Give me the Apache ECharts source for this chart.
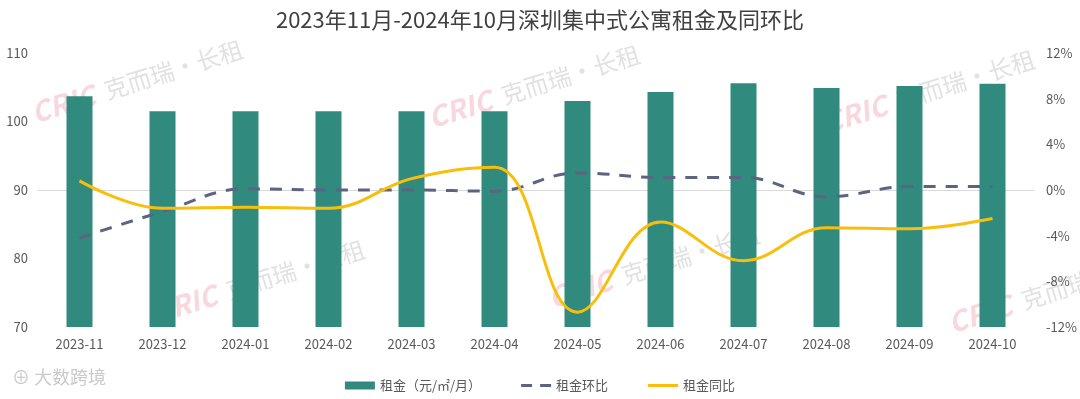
<!DOCTYPE html>
<html>
<head>
<meta charset="utf-8">
<script src="https://cdn.jsdelivr.net/npm/echarts@6/dist/echarts.min.js"></script>
<style>
  html, body { margin: 0; padding: 0; background: #fff; }
  #main { width: 1080px; height: 399px; }
</style>
</head>
<body>
<div id="main"></div>
<script>
// 月份
var months = ['2023-11', '2023-12', '2024-01', '2024-02', '2024-03', '2024-04',
  '2024-05', '2024-06', '2024-07', '2024-08', '2024-09', '2024-10'];
// 租金（元/㎡/月）
var rent = [103.7, 101.5, 101.5, 101.5, 101.5, 101.5, 103.0, 104.3, 105.6, 104.9, 105.2, 105.5];
// 租金环比 %
var mom = [-4.2, -1.9, 0.1, 0.0, 0.0, -0.1, 1.5, 1.1, 1.1, -0.6, 0.3, 0.3];
// 租金同比 %
var yoy = [0.8, -1.6, -1.5, -1.6, 1.0, 2.0, -10.7, -2.8, -6.2, -3.3, -3.4, -2.5];

var font = '"Noto Sans CJK SC", "Noto Sans", sans-serif';
var chart = echarts.init(document.getElementById('main'), null, { renderer: 'canvas' });

// 水印
function mark(x, y) {
  return {
    type: 'group', x: x, y: y, rotation: 0.3, silent: true, z: 0,
    children: [
      { type: 'text', style: { x: 0, y: 0, text: 'CRIC', fill: 'rgba(236,140,160,0.35)',
        font: 'italic bold 28px ' + font } },
      { type: 'text', style: { x: 76, y: 2, text: '克而瑞·长租', fill: 'rgba(170,170,170,0.35)',
        font: '24px ' + font } }
    ]
  };
}

// 图例图标（上下各留一个小点撑开高度）
var dashIcon = 'path://M0,0h0.01v0.01h-0.01z M0,2.5h11v3h-11z M19,2.5h11v3h-11z M0,7.99h0.01v0.01h-0.01z';
var lineIcon = 'path://M0,0h0.01v0.01h-0.01z M0,2.5h30v3h-30z M0,7.99h0.01v0.01h-0.01z';

var option = {
  textStyle: { fontFamily: font },
  color: ['#308B7E', '#5C6482', '#F9BE0C'],
  title: {
    text: '2023年11月-2024年10月深圳集中式公寓租金及同环比',
    left: 'center',
    top: 4,
    textStyle: { fontSize: 22, fontWeight: 'normal', color: '#404040', fontFamily: font }
  },
  legend: {
    bottom: 2,
    left: 'center',
    itemGap: 40,
    itemWidth: 30,
    itemHeight: 8,
    textStyle: { fontSize: 13, color: '#595959' },
    data: [
      { name: '租金（元/㎡/月）', icon: 'rect' },
      { name: '租金环比', icon: dashIcon },
      { name: '租金同比', icon: lineIcon }
    ]
  },
  grid: { left: 38, right: 46, top: 53, bottom: 72 },
  xAxis: {
    type: 'category',
    data: months,
    axisLine: { lineStyle: { color: '#D9D9D9' } },
    axisTick: { show: false },
    axisLabel: { color: '#595959', fontSize: 13, margin: 11 }
  },
  yAxis: [
    {
      type: 'value', min: 70, max: 110, interval: 10,
      splitLine: { show: false },
      axisLine: { show: false }, axisTick: { show: false },
      axisLabel: { color: '#595959', fontSize: 13, margin: 10 }
    },
    {
      type: 'value', min: -12, max: 12, interval: 4,
      splitLine: { show: false },
      axisLine: { show: false }, axisTick: { show: false },
      axisLabel: { color: '#595959', fontSize: 13, margin: 12, formatter: '{value}%' }
    }
  ],
  series: [
    {
      name: '租金（元/㎡/月）', type: 'bar', data: rent, barWidth: 26,
      itemStyle: { color: '#308B7E' }, z: 2
    },
    {
      name: '租金环比', type: 'line', yAxisIndex: 1, data: mom, smooth: 0.4,
      symbol: 'none', lineStyle: { width: 3, type: [12, 10], color: '#5C6482' },
      itemStyle: { color: '#5C6482' }, z: 3
    },
    {
      name: '租金同比', type: 'line', yAxisIndex: 1, data: yoy, smooth: 0.4,
      symbol: 'none', lineStyle: { width: 3, color: '#F9BE0C' },
      itemStyle: { color: '#F9BE0C' }, z: 4
    }
  ],
  graphic: [
    mark(28, 100), mark(425, 105), mark(820, 110),
    mark(150, 300), mark(545, 285), mark(945, 310),
    { type: 'text', left: 12, top: 368, silent: true,
      style: { text: '⊕ 大数跨境', fill: 'rgba(150,150,150,0.5)', font: '18px ' + font } }
  ]
};

chart.setOption(option);
</script>
</body>
</html>
